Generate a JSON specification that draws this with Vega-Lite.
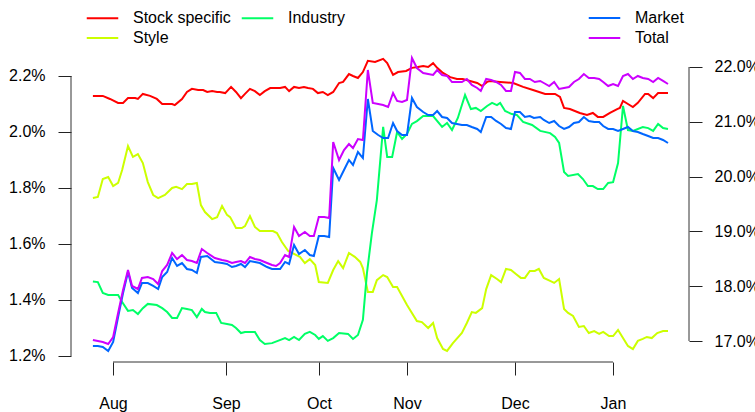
{
"$schema": "https://vega.github.io/schema/vega-lite/v6.json",
"width": 618, "height": 302,
"autosize": {"type": "none"},
"padding": {"left": 71, "top": 60, "right": 66, "bottom": 50},
"background": "white",
"config": {
  "view": {"stroke": null},
  "font": "Liberation Sans",
  "axis": {"grid": false, "domain": false, "tickColor": "#222", "tickSize": 13, "labelFontSize": 16, "labelColor": "#000", "labelFont": "Liberation Sans", "labelOverlap": false, "labelFlush": false},
  "legend": {"labelFontSize": 16, "labelFont": "Liberation Sans", "labelColor": "#000", "symbolType": "M-1.5,0H1.5", "symbolSize": 441, "symbolStrokeWidth": 2, "labelOffset": 19, "rowPadding": 0, "columnPadding": 6, "padding": 0, "orient": "none"}
},
"datasets": {
  "left": [
{"t":0.2,"s":"Stock specific","v":2.129},{"t":2.4,"s":"Stock specific","v":2.129},{"t":4.0,"s":"Stock specific","v":2.118},{"t":5.8,"s":"Stock specific","v":2.104},{"t":6.9,"s":"Stock specific","v":2.104},{"t":8.0,"s":"Stock specific","v":2.121},{"t":9.6,"s":"Stock specific","v":2.121},{"t":10.2,"s":"Stock specific","v":2.118},{"t":11.3,"s":"Stock specific","v":2.136},{"t":12.9,"s":"Stock specific","v":2.129},{"t":14.4,"s":"Stock specific","v":2.118},{"t":15.6,"s":"Stock specific","v":2.1},{"t":17.8,"s":"Stock specific","v":2.1},{"t":18.4,"s":"Stock specific","v":2.096},{"t":20.0,"s":"Stock specific","v":2.118},{"t":21.1,"s":"Stock specific","v":2.143},{"t":22.2,"s":"Stock specific","v":2.154},{"t":23.6,"s":"Stock specific","v":2.15},{"t":24.7,"s":"Stock specific","v":2.15},{"t":25.6,"s":"Stock specific","v":2.143},{"t":26.7,"s":"Stock specific","v":2.146},{"t":27.8,"s":"Stock specific","v":2.143},{"t":28.4,"s":"Stock specific","v":2.143},{"t":29.6,"s":"Stock specific","v":2.139},{"t":30.9,"s":"Stock specific","v":2.161},{"t":32.0,"s":"Stock specific","v":2.143},{"t":33.1,"s":"Stock specific","v":2.121},{"t":34.0,"s":"Stock specific","v":2.136},{"t":35.1,"s":"Stock specific","v":2.154},{"t":36.2,"s":"Stock specific","v":2.146},{"t":37.3,"s":"Stock specific","v":2.132},{"t":38.4,"s":"Stock specific","v":2.146},{"t":39.6,"s":"Stock specific","v":2.157},{"t":41.8,"s":"Stock specific","v":2.157},{"t":42.9,"s":"Stock specific","v":2.161},{"t":43.8,"s":"Stock specific","v":2.146},{"t":44.9,"s":"Stock specific","v":2.161},{"t":46.0,"s":"Stock specific","v":2.157},{"t":47.1,"s":"Stock specific","v":2.161},{"t":48.0,"s":"Stock specific","v":2.157},{"t":49.1,"s":"Stock specific","v":2.154},{"t":50.2,"s":"Stock specific","v":2.139},{"t":51.3,"s":"Stock specific","v":2.143},{"t":52.4,"s":"Stock specific","v":2.132},{"t":53.6,"s":"Stock specific","v":2.143},{"t":54.9,"s":"Stock specific","v":2.175},{"t":55.8,"s":"Stock specific","v":2.179},{"t":57.1,"s":"Stock specific","v":2.207},{"t":58.0,"s":"Stock specific","v":2.2},{"t":59.1,"s":"Stock specific","v":2.193},{"t":60.2,"s":"Stock specific","v":2.214},{"t":61.3,"s":"Stock specific","v":2.254},{"t":62.9,"s":"Stock specific","v":2.25},{"t":64.7,"s":"Stock specific","v":2.261},{"t":65.6,"s":"Stock specific","v":2.246},{"t":66.9,"s":"Stock specific","v":2.204},{"t":68.0,"s":"Stock specific","v":2.214},{"t":69.8,"s":"Stock specific","v":2.218},{"t":71.1,"s":"Stock specific","v":2.229},{"t":72.4,"s":"Stock specific","v":2.232},{"t":73.6,"s":"Stock specific","v":2.236},{"t":74.7,"s":"Stock specific","v":2.232},{"t":75.8,"s":"Stock specific","v":2.246},{"t":76.7,"s":"Stock specific","v":2.229},{"t":78.0,"s":"Stock specific","v":2.211},{"t":79.6,"s":"Stock specific","v":2.196},{"t":81.1,"s":"Stock specific","v":2.189},{"t":82.4,"s":"Stock specific","v":2.189},{"t":84.0,"s":"Stock specific","v":2.182},{"t":85.6,"s":"Stock specific","v":2.175},{"t":86.7,"s":"Stock specific","v":2.164},{"t":87.8,"s":"Stock specific","v":2.179},{"t":88.4,"s":"Stock specific","v":2.182},{"t":90.7,"s":"Stock specific","v":2.179},{"t":93.6,"s":"Stock specific","v":2.175},{"t":95.8,"s":"Stock specific","v":2.161},{"t":98.0,"s":"Stock specific","v":2.15},{"t":100.7,"s":"Stock specific","v":2.136},{"t":102.9,"s":"Stock specific","v":2.136},{"t":104.0,"s":"Stock specific","v":2.125},{"t":104.9,"s":"Stock specific","v":2.086},{"t":106.2,"s":"Stock specific","v":2.082},{"t":108.4,"s":"Stock specific","v":2.068},{"t":110.0,"s":"Stock specific","v":2.061},{"t":111.3,"s":"Stock specific","v":2.068},{"t":112.4,"s":"Stock specific","v":2.054},{"t":113.6,"s":"Stock specific","v":2.054},{"t":115.1,"s":"Stock specific","v":2.068},{"t":116.7,"s":"Stock specific","v":2.082},{"t":117.3,"s":"Stock specific","v":2.086},{"t":118.0,"s":"Stock specific","v":2.111},{"t":119.1,"s":"Stock specific","v":2.1},{"t":120.2,"s":"Stock specific","v":2.089},{"t":121.3,"s":"Stock specific","v":2.104},{"t":122.9,"s":"Stock specific","v":2.136},{"t":123.6,"s":"Stock specific","v":2.136},{"t":124.7,"s":"Stock specific","v":2.121},{"t":125.8,"s":"Stock specific","v":2.139},{"t":128.0,"s":"Stock specific","v":2.139},
{"t":0.2,"s":"Style","v":1.764},{"t":1.3,"s":"Style","v":1.768},{"t":2.4,"s":"Style","v":1.832},{"t":3.6,"s":"Style","v":1.839},{"t":4.7,"s":"Style","v":1.807},{"t":5.8,"s":"Style","v":1.818},{"t":6.7,"s":"Style","v":1.864},{"t":8.0,"s":"Style","v":1.95},{"t":9.1,"s":"Style","v":1.911},{"t":10.2,"s":"Style","v":1.921},{"t":11.3,"s":"Style","v":1.889},{"t":12.4,"s":"Style","v":1.821},{"t":13.6,"s":"Style","v":1.775},{"t":14.7,"s":"Style","v":1.764},{"t":16.2,"s":"Style","v":1.775},{"t":17.8,"s":"Style","v":1.8},{"t":18.7,"s":"Style","v":1.804},{"t":20.0,"s":"Style","v":1.796},{"t":21.1,"s":"Style","v":1.814},{"t":22.2,"s":"Style","v":1.814},{"t":23.3,"s":"Style","v":1.818},{"t":24.2,"s":"Style","v":1.739},{"t":25.1,"s":"Style","v":1.714},{"t":26.7,"s":"Style","v":1.689},{"t":27.8,"s":"Style","v":1.696},{"t":28.9,"s":"Style","v":1.736},{"t":30.0,"s":"Style","v":1.704},{"t":30.7,"s":"Style","v":1.696},{"t":32.0,"s":"Style","v":1.657},{"t":33.3,"s":"Style","v":1.657},{"t":34.0,"s":"Style","v":1.664},{"t":35.1,"s":"Style","v":1.7},{"t":36.2,"s":"Style","v":1.661},{"t":37.3,"s":"Style","v":1.646},{"t":40.2,"s":"Style","v":1.646},{"t":41.1,"s":"Style","v":1.639},{"t":42.2,"s":"Style","v":1.607},{"t":43.6,"s":"Style","v":1.575},{"t":46.2,"s":"Style","v":1.554},{"t":47.3,"s":"Style","v":1.532},{"t":48.4,"s":"Style","v":1.546},{"t":49.6,"s":"Style","v":1.525},{"t":50.4,"s":"Style","v":1.464},{"t":52.4,"s":"Style","v":1.461},{"t":53.6,"s":"Style","v":1.507},{"t":54.7,"s":"Style","v":1.539},{"t":55.8,"s":"Style","v":1.514},{"t":57.1,"s":"Style","v":1.568},{"t":58.4,"s":"Style","v":1.554},{"t":59.6,"s":"Style","v":1.536},{"t":60.2,"s":"Style","v":1.514},{"t":61.3,"s":"Style","v":1.429},{"t":62.4,"s":"Style","v":1.429},{"t":63.3,"s":"Style","v":1.471},{"t":64.7,"s":"Style","v":1.489},{"t":65.6,"s":"Style","v":1.482},{"t":66.9,"s":"Style","v":1.446},{"t":67.8,"s":"Style","v":1.446},{"t":70.0,"s":"Style","v":1.382},{"t":72.2,"s":"Style","v":1.325},{"t":73.3,"s":"Style","v":1.321},{"t":74.7,"s":"Style","v":1.3},{"t":75.8,"s":"Style","v":1.318},{"t":76.7,"s":"Style","v":1.264},{"t":78.0,"s":"Style","v":1.225},{"t":78.9,"s":"Style","v":1.218},{"t":80.2,"s":"Style","v":1.246},{"t":82.2,"s":"Style","v":1.282},{"t":83.3,"s":"Style","v":1.318},{"t":84.4,"s":"Style","v":1.357},{"t":85.3,"s":"Style","v":1.354},{"t":86.7,"s":"Style","v":1.371},{"t":87.6,"s":"Style","v":1.439},{"t":88.7,"s":"Style","v":1.489},{"t":90.0,"s":"Style","v":1.475},{"t":90.9,"s":"Style","v":1.464},{"t":92.0,"s":"Style","v":1.511},{"t":93.1,"s":"Style","v":1.507},{"t":94.2,"s":"Style","v":1.493},{"t":95.3,"s":"Style","v":1.479},{"t":96.2,"s":"Style","v":1.479},{"t":97.3,"s":"Style","v":1.504},{"t":98.4,"s":"Style","v":1.504},{"t":99.3,"s":"Style","v":1.511},{"t":100.4,"s":"Style","v":1.479},{"t":101.8,"s":"Style","v":1.468},{"t":102.7,"s":"Style","v":1.461},{"t":103.8,"s":"Style","v":1.475},{"t":104.9,"s":"Style","v":1.368},{"t":105.8,"s":"Style","v":1.354},{"t":106.9,"s":"Style","v":1.343},{"t":108.2,"s":"Style","v":1.304},{"t":109.3,"s":"Style","v":1.307},{"t":110.4,"s":"Style","v":1.282},{"t":111.6,"s":"Style","v":1.289},{"t":112.7,"s":"Style","v":1.279},{"t":113.6,"s":"Style","v":1.286},{"t":114.9,"s":"Style","v":1.271},{"t":115.8,"s":"Style","v":1.271},{"t":116.9,"s":"Style","v":1.293},{"t":118.0,"s":"Style","v":1.264},{"t":119.1,"s":"Style","v":1.236},{"t":120.2,"s":"Style","v":1.225},{"t":121.3,"s":"Style","v":1.254},{"t":122.4,"s":"Style","v":1.261},{"t":123.3,"s":"Style","v":1.268},{"t":124.4,"s":"Style","v":1.264},{"t":125.6,"s":"Style","v":1.282},{"t":126.9,"s":"Style","v":1.289},{"t":128.0,"s":"Style","v":1.289},
{"t":0.2,"s":"Industry","v":1.466},{"t":1.3,"s":"Industry","v":1.464},{"t":2.4,"s":"Industry","v":1.425},{"t":3.6,"s":"Industry","v":1.418},{"t":5.8,"s":"Industry","v":1.418},{"t":6.7,"s":"Industry","v":1.393},{"t":8.0,"s":"Industry","v":1.361},{"t":9.1,"s":"Industry","v":1.364},{"t":10.2,"s":"Industry","v":1.35},{"t":11.3,"s":"Industry","v":1.371},{"t":12.4,"s":"Industry","v":1.386},{"t":14.4,"s":"Industry","v":1.382},{"t":15.6,"s":"Industry","v":1.371},{"t":16.7,"s":"Industry","v":1.357},{"t":17.8,"s":"Industry","v":1.336},{"t":18.9,"s":"Industry","v":1.336},{"t":20.0,"s":"Industry","v":1.371},{"t":21.1,"s":"Industry","v":1.368},{"t":22.2,"s":"Industry","v":1.364},{"t":23.3,"s":"Industry","v":1.339},{"t":24.4,"s":"Industry","v":1.368},{"t":25.1,"s":"Industry","v":1.357},{"t":26.2,"s":"Industry","v":1.354},{"t":27.6,"s":"Industry","v":1.354},{"t":28.7,"s":"Industry","v":1.318},{"t":30.0,"s":"Industry","v":1.314},{"t":31.1,"s":"Industry","v":1.311},{"t":32.0,"s":"Industry","v":1.3},{"t":33.1,"s":"Industry","v":1.282},{"t":34.0,"s":"Industry","v":1.286},{"t":35.1,"s":"Industry","v":1.286},{"t":36.2,"s":"Industry","v":1.286},{"t":37.3,"s":"Industry","v":1.257},{"t":38.4,"s":"Industry","v":1.243},{"t":40.0,"s":"Industry","v":1.246},{"t":41.3,"s":"Industry","v":1.254},{"t":42.9,"s":"Industry","v":1.264},{"t":43.8,"s":"Industry","v":1.257},{"t":44.9,"s":"Industry","v":1.268},{"t":46.0,"s":"Industry","v":1.257},{"t":47.3,"s":"Industry","v":1.279},{"t":48.4,"s":"Industry","v":1.286},{"t":49.6,"s":"Industry","v":1.275},{"t":50.4,"s":"Industry","v":1.261},{"t":51.3,"s":"Industry","v":1.271},{"t":52.4,"s":"Industry","v":1.254},{"t":53.6,"s":"Industry","v":1.264},{"t":54.9,"s":"Industry","v":1.282},{"t":56.9,"s":"Industry","v":1.279},{"t":58.0,"s":"Industry","v":1.261},{"t":59.1,"s":"Industry","v":1.275},{"t":60.2,"s":"Industry","v":1.329},{"t":61.1,"s":"Industry","v":1.496},{"t":62.2,"s":"Industry","v":1.639},{"t":63.3,"s":"Industry","v":1.757},{"t":64.7,"s":"Industry","v":2.018},{"t":65.6,"s":"Industry","v":1.911},{"t":66.7,"s":"Industry","v":1.911},{"t":67.8,"s":"Industry","v":2.0},{"t":68.9,"s":"Industry","v":1.975},{"t":70.0,"s":"Industry","v":1.993},{"t":71.1,"s":"Industry","v":2.029},{"t":72.2,"s":"Industry","v":2.039},{"t":73.6,"s":"Industry","v":2.057},{"t":75.8,"s":"Industry","v":2.057},{"t":77.8,"s":"Industry","v":2.018},{"t":78.9,"s":"Industry","v":2.032},{"t":80.0,"s":"Industry","v":2.007},{"t":81.3,"s":"Industry","v":2.05},{"t":82.9,"s":"Industry","v":2.132},{"t":84.2,"s":"Industry","v":2.082},{"t":85.3,"s":"Industry","v":2.086},{"t":86.4,"s":"Industry","v":2.075},{"t":87.8,"s":"Industry","v":2.093},{"t":88.9,"s":"Industry","v":2.104},{"t":90.0,"s":"Industry","v":2.096},{"t":90.7,"s":"Industry","v":2.104},{"t":91.8,"s":"Industry","v":2.075},{"t":93.3,"s":"Industry","v":2.064},{"t":94.4,"s":"Industry","v":2.061},{"t":95.8,"s":"Industry","v":2.036},{"t":97.8,"s":"Industry","v":2.025},{"t":99.6,"s":"Industry","v":2.004},{"t":101.8,"s":"Industry","v":1.996},{"t":102.9,"s":"Industry","v":1.982},{"t":103.8,"s":"Industry","v":1.961},{"t":104.9,"s":"Industry","v":1.857},{"t":105.8,"s":"Industry","v":1.843},{"t":108.0,"s":"Industry","v":1.85},{"t":109.1,"s":"Industry","v":1.832},{"t":110.2,"s":"Industry","v":1.807},{"t":111.3,"s":"Industry","v":1.807},{"t":112.4,"s":"Industry","v":1.796},{"t":113.6,"s":"Industry","v":1.796},{"t":114.7,"s":"Industry","v":1.818},{"t":115.8,"s":"Industry","v":1.821},{"t":116.9,"s":"Industry","v":1.889},{"t":118.0,"s":"Industry","v":2.093},{"t":119.1,"s":"Industry","v":2.007},{"t":120.2,"s":"Industry","v":2.004},{"t":122.4,"s":"Industry","v":2.018},{"t":123.6,"s":"Industry","v":2.014},{"t":124.7,"s":"Industry","v":2.004},{"t":125.8,"s":"Industry","v":2.029},{"t":126.9,"s":"Industry","v":2.014},{"t":128.0,"s":"Industry","v":2.011}
  ],
  "right": [
{"t":0.2,"s":"Market","v":16.909},{"t":1.3,"s":"Market","v":16.909},{"t":2.4,"s":"Market","v":16.891},{"t":3.6,"s":"Market","v":16.818},{"t":4.7,"s":"Market","v":16.982},{"t":5.8,"s":"Market","v":17.438},{"t":6.9,"s":"Market","v":17.876},{"t":8.0,"s":"Market","v":18.259},{"t":8.9,"s":"Market","v":17.967},{"t":10.2,"s":"Market","v":17.876},{"t":11.1,"s":"Market","v":18.058},{"t":12.4,"s":"Market","v":18.058},{"t":13.6,"s":"Market","v":18.004},{"t":14.7,"s":"Market","v":17.949},{"t":15.6,"s":"Market","v":18.168},{"t":16.7,"s":"Market","v":18.259},{"t":17.8,"s":"Market","v":18.515},{"t":18.9,"s":"Market","v":18.369},{"t":20.0,"s":"Market","v":18.423},{"t":21.1,"s":"Market","v":18.314},{"t":22.2,"s":"Market","v":18.296},{"t":23.3,"s":"Market","v":18.241},{"t":24.2,"s":"Market","v":18.533},{"t":25.6,"s":"Market","v":18.551},{"t":27.3,"s":"Market","v":18.442},{"t":28.9,"s":"Market","v":18.423},{"t":30.0,"s":"Market","v":18.405},{"t":31.1,"s":"Market","v":18.35},{"t":32.0,"s":"Market","v":18.369},{"t":33.1,"s":"Market","v":18.405},{"t":34.0,"s":"Market","v":18.35},{"t":35.1,"s":"Market","v":18.46},{"t":36.2,"s":"Market","v":18.442},{"t":37.3,"s":"Market","v":18.423},{"t":38.9,"s":"Market","v":18.35},{"t":40.0,"s":"Market","v":18.314},{"t":41.8,"s":"Market","v":18.314},{"t":42.9,"s":"Market","v":18.442},{"t":43.8,"s":"Market","v":18.405},{"t":44.9,"s":"Market","v":18.752},{"t":46.0,"s":"Market","v":18.588},{"t":47.3,"s":"Market","v":18.661},{"t":48.4,"s":"Market","v":18.569},{"t":49.3,"s":"Market","v":18.551},{"t":50.4,"s":"Market","v":18.916},{"t":51.6,"s":"Market","v":18.916},{"t":52.7,"s":"Market","v":18.898},{"t":53.6,"s":"Market","v":20.157},{"t":54.9,"s":"Market","v":19.938},{"t":56.0,"s":"Market","v":20.12},{"t":57.1,"s":"Market","v":20.303},{"t":58.0,"s":"Market","v":20.212},{"t":59.1,"s":"Market","v":20.449},{"t":60.2,"s":"Market","v":20.339},{"t":61.3,"s":"Market","v":21.416},{"t":62.4,"s":"Market","v":20.832},{"t":63.6,"s":"Market","v":20.759},{"t":64.7,"s":"Market","v":20.704},{"t":65.8,"s":"Market","v":20.704},{"t":66.9,"s":"Market","v":20.978},{"t":67.8,"s":"Market","v":20.832},{"t":68.9,"s":"Market","v":20.759},{"t":70.0,"s":"Market","v":20.759},{"t":71.1,"s":"Market","v":21.434},{"t":72.2,"s":"Market","v":21.27},{"t":73.6,"s":"Market","v":21.179},{"t":74.7,"s":"Market","v":21.124},{"t":75.8,"s":"Market","v":21.124},{"t":76.7,"s":"Market","v":21.197},{"t":77.8,"s":"Market","v":21.088},{"t":78.9,"s":"Market","v":21.069},{"t":80.0,"s":"Market","v":20.978},{"t":81.1,"s":"Market","v":20.96},{"t":82.2,"s":"Market","v":20.942},{"t":83.3,"s":"Market","v":20.942},{"t":84.4,"s":"Market","v":20.905},{"t":85.6,"s":"Market","v":20.869},{"t":86.4,"s":"Market","v":20.814},{"t":87.6,"s":"Market","v":21.088},{"t":88.7,"s":"Market","v":21.088},{"t":89.8,"s":"Market","v":21.015},{"t":90.9,"s":"Market","v":20.96},{"t":92.0,"s":"Market","v":20.887},{"t":93.1,"s":"Market","v":20.869},{"t":94.0,"s":"Market","v":21.179},{"t":95.1,"s":"Market","v":21.179},{"t":96.2,"s":"Market","v":21.088},{"t":97.3,"s":"Market","v":21.106},{"t":98.2,"s":"Market","v":21.069},{"t":99.6,"s":"Market","v":21.088},{"t":100.4,"s":"Market","v":21.033},{"t":101.6,"s":"Market","v":20.978},{"t":102.7,"s":"Market","v":21.015},{"t":103.8,"s":"Market","v":20.923},{"t":104.9,"s":"Market","v":20.869},{"t":106.0,"s":"Market","v":20.905},{"t":107.1,"s":"Market","v":20.978},{"t":108.2,"s":"Market","v":20.996},{"t":109.3,"s":"Market","v":21.088},{"t":110.4,"s":"Market","v":21.015},{"t":111.6,"s":"Market","v":20.996},{"t":112.7,"s":"Market","v":20.996},{"t":113.6,"s":"Market","v":20.923},{"t":114.7,"s":"Market","v":20.869},{"t":115.8,"s":"Market","v":20.869},{"t":116.9,"s":"Market","v":20.832},{"t":118.0,"s":"Market","v":20.869},{"t":119.1,"s":"Market","v":20.905},{"t":120.2,"s":"Market","v":20.832},{"t":121.3,"s":"Market","v":20.814},{"t":122.4,"s":"Market","v":20.777},{"t":123.6,"s":"Market","v":20.741},{"t":124.7,"s":"Market","v":20.704},{"t":125.8,"s":"Market","v":20.704},{"t":126.9,"s":"Market","v":20.668},{"t":128.0,"s":"Market","v":20.613},
{"t":0.2,"s":"Total","v":17.018},{"t":1.3,"s":"Total","v":17.0},{"t":2.4,"s":"Total","v":16.982},{"t":3.6,"s":"Total","v":16.945},{"t":4.7,"s":"Total","v":17.073},{"t":5.8,"s":"Total","v":17.511},{"t":6.9,"s":"Total","v":17.931},{"t":8.0,"s":"Total","v":18.296},{"t":8.9,"s":"Total","v":18.004},{"t":10.2,"s":"Total","v":17.949},{"t":11.1,"s":"Total","v":18.15},{"t":12.4,"s":"Total","v":18.168},{"t":13.6,"s":"Total","v":18.131},{"t":14.7,"s":"Total","v":18.04},{"t":15.6,"s":"Total","v":18.277},{"t":16.7,"s":"Total","v":18.387},{"t":17.8,"s":"Total","v":18.606},{"t":18.9,"s":"Total","v":18.496},{"t":20.0,"s":"Total","v":18.569},{"t":21.1,"s":"Total","v":18.478},{"t":22.2,"s":"Total","v":18.46},{"t":23.3,"s":"Total","v":18.423},{"t":24.4,"s":"Total","v":18.679},{"t":25.6,"s":"Total","v":18.606},{"t":27.3,"s":"Total","v":18.515},{"t":28.9,"s":"Total","v":18.478},{"t":30.0,"s":"Total","v":18.46},{"t":31.1,"s":"Total","v":18.423},{"t":32.0,"s":"Total","v":18.442},{"t":33.1,"s":"Total","v":18.46},{"t":34.0,"s":"Total","v":18.423},{"t":35.1,"s":"Total","v":18.533},{"t":36.2,"s":"Total","v":18.496},{"t":37.3,"s":"Total","v":18.478},{"t":38.9,"s":"Total","v":18.423},{"t":40.0,"s":"Total","v":18.387},{"t":40.9,"s":"Total","v":18.369},{"t":41.8,"s":"Total","v":18.423},{"t":42.9,"s":"Total","v":18.569},{"t":43.8,"s":"Total","v":18.533},{"t":44.9,"s":"Total","v":19.08},{"t":46.0,"s":"Total","v":18.916},{"t":47.3,"s":"Total","v":18.989},{"t":48.4,"s":"Total","v":18.916},{"t":49.3,"s":"Total","v":18.916},{"t":50.4,"s":"Total","v":19.263},{"t":51.6,"s":"Total","v":19.263},{"t":52.7,"s":"Total","v":19.245},{"t":53.6,"s":"Total","v":20.631},{"t":54.9,"s":"Total","v":20.303},{"t":56.0,"s":"Total","v":20.485},{"t":57.1,"s":"Total","v":20.595},{"t":58.0,"s":"Total","v":20.522},{"t":59.1,"s":"Total","v":20.686},{"t":60.2,"s":"Total","v":20.668},{"t":61.3,"s":"Total","v":21.945},{"t":62.4,"s":"Total","v":21.343},{"t":63.6,"s":"Total","v":21.325},{"t":64.7,"s":"Total","v":21.307},{"t":65.8,"s":"Total","v":21.27},{"t":66.9,"s":"Total","v":21.526},{"t":67.8,"s":"Total","v":21.38},{"t":68.9,"s":"Total","v":21.361},{"t":70.0,"s":"Total","v":21.398},{"t":71.1,"s":"Total","v":22.164},{"t":72.2,"s":"Total","v":21.982},{"t":73.6,"s":"Total","v":21.891},{"t":74.7,"s":"Total","v":21.872},{"t":75.8,"s":"Total","v":21.854},{"t":76.7,"s":"Total","v":21.945},{"t":77.8,"s":"Total","v":21.854},{"t":78.9,"s":"Total","v":21.836},{"t":80.0,"s":"Total","v":21.726},{"t":81.1,"s":"Total","v":21.726},{"t":82.2,"s":"Total","v":21.726},{"t":83.3,"s":"Total","v":21.781},{"t":84.4,"s":"Total","v":21.672},{"t":85.6,"s":"Total","v":21.617},{"t":86.4,"s":"Total","v":21.562},{"t":87.6,"s":"Total","v":21.781},{"t":88.7,"s":"Total","v":21.763},{"t":89.8,"s":"Total","v":21.726},{"t":90.9,"s":"Total","v":21.672},{"t":92.0,"s":"Total","v":21.562},{"t":93.1,"s":"Total","v":21.562},{"t":94.0,"s":"Total","v":21.909},{"t":95.1,"s":"Total","v":21.891},{"t":96.2,"s":"Total","v":21.781},{"t":97.3,"s":"Total","v":21.781},{"t":98.4,"s":"Total","v":21.726},{"t":99.6,"s":"Total","v":21.745},{"t":100.4,"s":"Total","v":21.708},{"t":101.6,"s":"Total","v":21.653},{"t":102.7,"s":"Total","v":21.726},{"t":103.8,"s":"Total","v":21.599},{"t":104.9,"s":"Total","v":21.617},{"t":106.0,"s":"Total","v":21.635},{"t":107.1,"s":"Total","v":21.726},{"t":108.2,"s":"Total","v":21.781},{"t":109.3,"s":"Total","v":21.872},{"t":110.4,"s":"Total","v":21.799},{"t":111.6,"s":"Total","v":21.799},{"t":112.7,"s":"Total","v":21.781},{"t":113.6,"s":"Total","v":21.726},{"t":114.7,"s":"Total","v":21.653},{"t":115.8,"s":"Total","v":21.69},{"t":116.9,"s":"Total","v":21.653},{"t":118.0,"s":"Total","v":21.836},{"t":119.1,"s":"Total","v":21.872},{"t":120.2,"s":"Total","v":21.781},{"t":121.3,"s":"Total","v":21.836},{"t":122.4,"s":"Total","v":21.799},{"t":123.6,"s":"Total","v":21.781},{"t":124.7,"s":"Total","v":21.726},{"t":125.8,"s":"Total","v":21.799},{"t":126.9,"s":"Total","v":21.745},{"t":128.0,"s":"Total","v":21.69}
  ]
},
"layer": [
  {
    "layer": [
      {
        "data": {"name": "left"},
        "mark": {"type": "line", "strokeWidth": 2},
        "encoding": {
          "x": {"field": "t", "type": "quantitative", "scale": {"domain": [-4.667, 132.667], "nice": false, "zero": false},
                "axis": {"values": [4.667, 29.78, 50.44, 70, 94, 115.78], "labelExpr": "datum.value < 10 ? 'Aug' : datum.value < 40 ? 'Sep' : datum.value < 60 ? 'Oct' : datum.value < 80 ? 'Nov' : datum.value < 100 ? 'Dec' : 'Jan'", "labelPadding": 20, "title": null}},
          "y": {"field": "v", "type": "quantitative", "scale": {"domain": [1.17857, 2.25714], "nice": false, "zero": false},
                "axis": {"orient": "left", "values": [1.2, 1.4, 1.6, 1.8, 2.0, 2.2], "labelExpr": "format(datum.value, '.1f') + '%'", "labelPadding": 13, "title": null}},
          "color": {"field": "s", "type": "nominal",
                    "scale": {"domain": ["Stock specific", "Industry", "Style"], "range": ["#FF0000", "#00FF66", "#CCFF00"]},
                    "legend": {"title": null, "orient": "none", "legendX": 20, "legendY": -53.5, "direction": "horizontal", "columns": 2}}
        }
      },
      {
        "data": {"values": [{}]},
        "mark": {"type": "rule", "color": "#333", "strokeWidth": 1},
        "encoding": {"x": {"datum": -4.667, "type": "quantitative"}, "y": {"datum": 1.2, "type": "quantitative"}, "y2": {"datum": 2.2}}
      },
      {
        "data": {"values": [{}]},
        "mark": {"type": "rule", "color": "#333", "strokeWidth": 1},
        "encoding": {"x": {"datum": 4.667, "type": "quantitative"}, "x2": {"datum": 115.78}, "y": {"datum": 1.17857, "type": "quantitative"}}
      }
    ]
  },
  {
    "layer": [
      {
        "data": {"name": "right"},
        "mark": {"type": "line", "strokeWidth": 2},
        "encoding": {
          "x": {"field": "t", "type": "quantitative"},
          "y": {"field": "v", "type": "quantitative", "scale": {"domain": [16.6168, 22.1277], "nice": false, "zero": false},
                "axis": {"orient": "right", "values": [17, 18, 19, 20, 21, 22], "labelExpr": "format(datum.value, '.1f') + '%'", "labelPadding": 12, "title": null}},
          "color": {"field": "s", "type": "nominal",
                    "scale": {"domain": ["Market", "Total"], "range": ["#0066FF", "#CC00FF"]},
                    "legend": {"title": null, "orient": "none", "legendX": 522, "legendY": -53.5, "direction": "vertical"}}
        }
      },
      {
        "data": {"values": [{}]},
        "mark": {"type": "rule", "color": "#333", "strokeWidth": 1},
        "encoding": {"x": {"datum": 132.667, "type": "quantitative"}, "y": {"datum": 17, "type": "quantitative"}, "y2": {"datum": 22}}
      }
    ]
  }
],
"resolve": {"scale": {"y": "independent", "color": "independent"}}
}
